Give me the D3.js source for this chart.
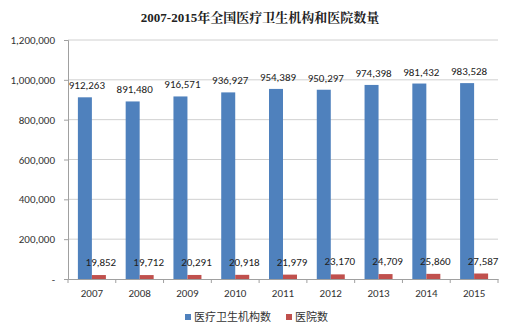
<!DOCTYPE html>
<html><head><meta charset="utf-8">
<script src="https://cdn.jsdelivr.net/npm/d3@7"></script>
<style>body{margin:0;background:#fff}svg{display:block}</style>
</head><body>
<script>
const years = ["2007","2008","2009","2010","2011","2012","2013","2014","2015"];
const institutions = [912263,891480,916571,936927,954389,950297,974398,981432,983528];
const hospitals = [19852,19712,20291,20918,21979,23170,24709,25860,27587];
const seriesNames = ["医疗卫生机构数","医院数"];
const colors = ["#4F81BD","#C0504D"];
const yTicks = [0,200000,400000,600000,800000,1000000,1200000];
const title = "2007-2015年全国医疗卫生机构和医院数量";

(function(){
const W=520,H=332, mLeft=68, mRight=498, mTop=40, mBottom=279;
const svg = d3.select("body").append("svg").attr("width",W).attr("height",H);
const font = "Calibri, 'Liberation Sans', 'Noto Sans CJK SC', sans-serif";

svg.append("text").attr("x",260).attr("y",22).attr("text-anchor","middle")
  .attr("font-family","'Liberation Serif','Noto Serif CJK SC','Noto Sans CJK SC',serif")
  .attr("font-weight","bold").attr("font-size",13).attr("fill","#222").text(title);

const x = d3.scaleBand().domain(years).range([mLeft,mRight]);
const y = d3.scaleLinear().domain([0,1200000]).range([mBottom,mTop]);
const bw = 14;

svg.append("g").selectAll("line").data(yTicks.filter(d=>d>0)).join("line")
  .attr("x1",mLeft).attr("x2",mRight).attr("y1",d=>y(d)).attr("y2",d=>y(d))
  .attr("stroke","#d0d0d0").attr("stroke-width",1);

const yAxis = svg.append("g").attr("transform",`translate(${mLeft},0)`)
  .call(d3.axisLeft(y).tickValues(yTicks).tickSize(4).tickPadding(9)
    .tickFormat(d=> d===0 ? "-" : d3.format(",")(d)));
yAxis.select(".domain").attr("stroke","#a0a0a0");
yAxis.selectAll(".tick line").attr("stroke","#a0a0a0");
yAxis.selectAll("text").attr("font-family",font).attr("font-size",11).attr("fill","#333");

const xAxis = svg.append("g").attr("transform",`translate(0,${mBottom})`)
  .call(d3.axisBottom(x).tickSize(0).tickPadding(10));
xAxis.select(".domain").attr("stroke","#a0a0a0");
xAxis.selectAll("text").attr("font-family",font).attr("font-size",11).attr("fill","#333");
svg.append("g").selectAll("line").data(years.concat(["end"])).join("line")
  .attr("x1",(d,i)=>mLeft+i*x.step()).attr("x2",(d,i)=>mLeft+i*x.step())
  .attr("y1",mBottom).attr("y2",mBottom+4).attr("stroke","#a0a0a0");

const data = [institutions, hospitals];
data.forEach((arr,si)=>{
  const g = svg.append("g");
  g.selectAll("rect").data(arr).join("rect")
    .attr("x",(d,i)=>x(years[i])+x.bandwidth()/2 - bw + si*bw)
    .attr("width",bw)
    .attr("y",d=>y(d)).attr("height",d=>mBottom-y(d))
    .attr("fill",colors[si]);
  g.selectAll("text").data(arr).join("text")
    .attr("x",(d,i)=>x(years[i])+x.bandwidth()/2 - bw/2 + si*bw + 2)
    .attr("y",d=>si===0 ? y(d)-8 : y(d)-9)
    .attr("text-anchor","middle").attr("font-family",font).attr("font-size",11).attr("fill","#222")
    .text(d=>d3.format(",")(d));
});

const leg = svg.append("g");
const lx = [185, 286];
seriesNames.forEach((n,i)=>{
  leg.append("rect").attr("x",lx[i]).attr("y",314).attr("width",6).attr("height",6).attr("fill",colors[i]);
  leg.append("text").attr("x",lx[i]+9).attr("y",321).attr("font-family","'Noto Sans CJK SC',sans-serif")
    .attr("font-size",11).attr("fill","#333").text(n);
});
})();
</script>
</body></html>
